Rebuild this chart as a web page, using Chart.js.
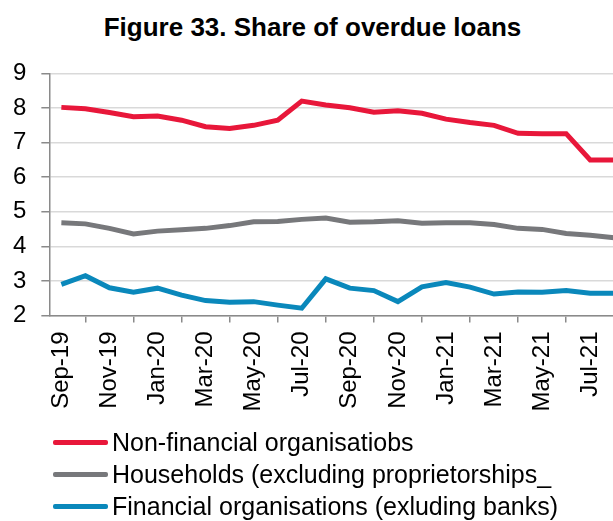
<!DOCTYPE html>
<html>
<head>
<meta charset="utf-8">
<script src="https://cdn.jsdelivr.net/npm/chart.js@4.4.1/dist/chart.umd.min.js"></script>
<style>
    html, body { margin: 0; padding: 0; background: #fff; }
    #wrap { position: relative; width: 613px; height: 521px; overflow: hidden; font-family: Arial, "Liberation Sans", sans-serif; }
    #title { position: absolute; left: 0; top: 14px; width: 625px; text-align: center; font-weight: bold; font-size: 26px; line-height: 26px; color: #000; white-space: nowrap; }
    #chart { position: absolute; left: -2px; top: 0; }
    #legend { position: absolute; left: 53px; top: 426px; }
    .leg-row { display: flex; align-items: center; height: 32px; font-size: 25px; color: #000; white-space: nowrap; }
    .leg-line { width: 55px; height: 5px; margin-right: 4px; border-radius: 2px; }
</style>
</head>
<body>
<div id="wrap">
    <div id="title">Figure 33. Share of overdue loans</div>
    <canvas id="chart" width="630" height="521"></canvas>
    <div id="legend"></div>
</div>
<script>
// Dados (% de empréstimos vencidos), mensal de Sep-19 a Aug-21
const meses = ['Sep-19', 'Oct-19', 'Nov-19', 'Dec-19', 'Jan-20', 'Feb-20', 'Mar-20', 'Apr-20', 'May-20', 'Jun-20', 'Jul-20', 'Aug-20',
    'Sep-20', 'Oct-20', 'Nov-20', 'Dec-20', 'Jan-21', 'Feb-21', 'Mar-21', 'Apr-21', 'May-21', 'Jun-21', 'Jul-21', 'Aug-21'];
const naoFinanceiras = [8.02, 7.98, 7.87, 7.75, 7.77, 7.65, 7.46, 7.41, 7.50, 7.65, 8.20, 8.09,
    8.01, 7.88, 7.92, 7.85, 7.68, 7.58, 7.50, 7.27, 7.26, 7.26, 6.50, 6.50];
const familias = [4.68, 4.65, 4.52, 4.36, 4.44, 4.48, 4.52, 4.60, 4.71, 4.72, 4.78, 4.82,
    4.70, 4.71, 4.74, 4.67, 4.68, 4.68, 4.63, 4.52, 4.49, 4.37, 4.32, 4.25];
const financeiras = [2.90, 3.15, 2.80, 2.67, 2.79, 2.59, 2.43, 2.38, 2.40, 2.30, 2.21, 3.06,
    2.79, 2.72, 2.40, 2.83, 2.95, 2.82, 2.62, 2.68, 2.67, 2.72, 2.64, 2.64];
const yTicks = [2, 3, 4, 5, 6, 7, 8, 9];

const series = [
    { nome: 'Non-financial organisatiobs', dados: naoFinanceiras, cor: '#E8173A' },
    { nome: 'Households (excluding proprietorships_', dados: familias, cor: '#77787B' },
    { nome: 'Financial organisations (exluding banks)', dados: financeiras, cor: '#0A88BB' }
];

const fonte = 'Arial, "Liberation Sans", sans-serif';
const corEixo = '#8A8A8A';

const ctx = document.getElementById('chart').getContext('2d');
new Chart(ctx, {
    type: 'line',
    data: {
        labels: meses,
        datasets: series.map(s => ({
            label: s.nome,
            data: s.dados,
            borderColor: s.cor,
            backgroundColor: s.cor,
            borderWidth: 5,
            pointRadius: 0,
            tension: 0,
            fill: false
        }))
    },
    options: {
        responsive: false,
        animation: false,
        layout: { padding: { left: 0, top: 73.5, right: 0, bottom: 100.5 } },
        plugins: { legend: { display: false }, tooltip: { enabled: false }, title: { display: false } },
        scales: {
            x: {
                offset: true,
                grid: { offset: true, drawOnChartArea: false, tickLength: 7, color: corEixo, lineWidth: 1.5 },
                border: { color: corEixo, width: 1.5 },
                ticks: {
                    autoSkip: false, minRotation: 90, maxRotation: 90, padding: 9, color: '#000',
                    font: { family: fonte, size: 24 },
                    // rótulo a cada 2 meses (null também esconde a marca do eixo)
                    callback: function (v, i) { return i % 2 === 0 ? this.getLabelForValue(v) : null; }
                }
            },
            y: {
                min: yTicks[0],
                max: yTicks[yTicks.length - 1],
                afterBuildTicks: axis => { axis.ticks = yTicks.map(v => ({ value: v })); },
                grid: { color: '#D9D9D9', lineWidth: 1.5, tickColor: corEixo, tickLength: 8 },
                border: { color: corEixo, width: 1.5 },
                ticks: { padding: 15, color: '#000', font: { family: fonte, size: 24 } }
            }
        }
    }
});

// Legenda em HTML, uma linha por série
const legenda = document.getElementById('legend');
series.forEach(s => {
    const row = document.createElement('div');
    row.className = 'leg-row';
    row.innerHTML = `<span class="leg-line" style="background:${s.cor}"></span><span>${s.nome}</span>`;
    legenda.appendChild(row);
});
</script>
</body>
</html>
